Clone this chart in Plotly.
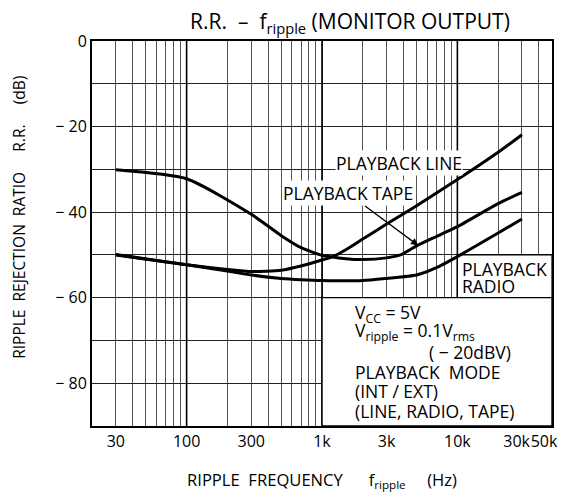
import numpy as np
import plotly.graph_objects as go

# ---- data (Hz, dB) ----
tape_freq = [30, 100, 300, 500, 700, 1000, 1200, 1500, 2000, 3000, 3800, 5000, 7000, 10000, 20000, 30000]
tape_rr = [-30.1, -32.2, -40.5, -45.5, -48.3, -50.1, -50.5, -50.9, -51.1, -50.7, -50.0, -47.9, -45.7, -43.4, -38.0, -35.4]

line_freq = [30, 100, 200, 300, 500, 700, 1000, 1200, 1500, 2000, 3000, 5000, 10000, 20000, 30000]
line_rr = [-49.9, -52.3, -53.4, -53.9, -53.6, -52.6, -51.2, -50.4, -48.8, -46.3, -42.8, -38.5, -32.4, -26.0, -21.9]

radio_freq = [30, 100, 200, 300, 500, 700, 1000, 2000, 3000, 5000, 7000, 10000, 20000, 30000]
radio_rr = [-50.0, -52.3, -53.8, -54.7, -55.5, -55.8, -56.0, -56.0, -55.5, -54.7, -53.0, -50.4, -44.9, -41.6]

x_grid = [20, 30, 40, 50, 60, 70, 80, 90,
          100, 200, 300, 400, 500, 600, 700, 800, 900,
          1000, 2000, 3000, 4000, 5000, 6000, 7000, 8000, 9000,
          10000, 20000, 30000, 40000, 50000]
# "30k50k" sit tight against the right edge; trailing spaces nudge them left
x_labels = {30: "30", 100: "100", 300: "300", 1000: "1k", 3000: "3k",
            10000: "10k", 30000: "30k\u2002\u2009", 50000: "50k\u2002\u2002"}
y_grid = list(range(-90, 1, 10))
y_labels = {0: "0", -20: "\u2212 20", -40: "\u2212 40", -60: "\u2212 60", -80: "\u2212 80"}
decades = [100, 1000, 10000]

FONT = "Open Sans"
INK = "black"

fig = go.Figure()
for name, fx, fy in [("PLAYBACK TAPE", tape_freq, tape_rr),
                     ("PLAYBACK LINE", line_freq, line_rr),
                     ("PLAYBACK RADIO", radio_freq, radio_rr)]:
    fig.add_trace(go.Scatter(x=fx, y=fy, mode="lines", name=name,
                             line=dict(color=INK, width=3, shape="spline", smoothing=0.6),
                             showlegend=False))

shapes = []
# darker decade lines
for d in decades:
    shapes.append(dict(type="line", xref="x", yref="y", x0=d, x1=d, y0=-90, y1=0,
                       line=dict(color=INK, width=1.6), layer="between"))
# blank cells behind the notes
shapes.append(dict(type="rect", xref="x", yref="y", x0=10000, x1=50000, y0=-60, y1=-50,
                   fillcolor="white", line=dict(color=INK, width=1.2), layer="between"))
shapes.append(dict(type="rect", xref="x", yref="y", x0=1000, x1=50000, y0=-90, y1=-60,
                   fillcolor="white", line=dict(color=INK, width=1.4), layer="between"))

note = dict(size=17.5, color=INK, family=FONT)
NX = np.log10(1680)
annotations = [
    dict(x=np.log10(3700), y=-28.6, text="PLAYBACK LINE", showarrow=False,
         bgcolor="white", borderpad=0, font=note),
    dict(x=np.log10(5140), y=-47.8, ax=-70, ay=-52, text="PLAYBACK TAPE",
         showarrow=True, arrowhead=2, arrowsize=1.1, arrowwidth=1.3, arrowcolor=INK,
         bgcolor="white", borderpad=0, font=note),
    dict(x=np.log10(10500), y=-53.3, text="PLAYBACK", showarrow=False,
         xanchor="left", font=note),
    dict(x=np.log10(10500), y=-57.3, text="RADIO", showarrow=False,
         xanchor="left", font=note),
    # condition notes
    dict(x=NX, y=-63.8, text="V<sub>CC</sub> = 5V", showarrow=False,
         xanchor="left", font=note),
    dict(x=NX, y=-67.9, text="V<sub>ripple</sub> = 0.1V<sub>rms</sub>",
         showarrow=False, xanchor="left", font=note),
    dict(x=np.log10(6000), y=-72.8, text="( \u2212 20dBV)", showarrow=False,
         xanchor="left", font=note),
    dict(x=NX, y=-77.4, text="PLAYBACK  MODE", showarrow=False,
         xanchor="left", font=note),
    dict(x=NX, y=-81.9, text="(INT / EXT)", showarrow=False,
         xanchor="left", font=note),
    dict(x=NX, y=-86.4, text="(LINE, RADIO, TAPE)", showarrow=False,
         xanchor="left", font=note),
    # y-axis title
    dict(xref="paper", yref="paper", x=-0.159, y=0.543, xanchor="center", yanchor="middle",
         textangle=-90, text="RIPPLE  REJECTION  RATIO     R.R.     (dB)", showarrow=False,
         font=dict(size=15.5, color=INK, family=FONT)),
]

# the page puts the figure 8 px in from the top-left corner; keep it short
# enough that no scrollbar shows up
fig.update_layout(
    width=560, height=484,
    margin=dict(l=84, r=16, t=33, b=66),
    paper_bgcolor="white", plot_bgcolor="white",
    font=dict(family=FONT, color=INK, size=16),
    title=dict(text="R.R.  \u2013  f<sub>ripple</sub> (MONITOR OUTPUT)",
               x=342 / 560, xanchor="center", y=1 - 14 / 484, yanchor="middle",
               font=dict(size=21, color=INK, family=FONT)),
    shapes=shapes,
    annotations=annotations,
    xaxis=dict(
        type="log", range=[np.log10(20), np.log10(50000)], automargin=False,
        tickvals=x_grid, ticktext=[x_labels.get(v, "") for v in x_grid],
        tickangle=0, ticklabeloverflow="allow",
        showgrid=True, gridcolor="#555", gridwidth=1,
        showline=True, linecolor=INK, linewidth=2, mirror=True,
        ticks="", tickfont=dict(size=16), zeroline=False,
        title=dict(text="RIPPLE  FREQUENCY      f<sub>ripple</sub>     (Hz)",
                   font=dict(size=16.6), standoff=24),
    ),
    yaxis=dict(
        range=[-90, 0], automargin=False,
        tickvals=y_grid, ticktext=[y_labels.get(v, "") for v in y_grid],
        showgrid=True, gridcolor="#222", gridwidth=1.2,
        showline=True, linecolor=INK, linewidth=2, mirror=True,
        ticks="", tickfont=dict(size=16), zeroline=False,
    ),
)

fig.write_html("out.html")
